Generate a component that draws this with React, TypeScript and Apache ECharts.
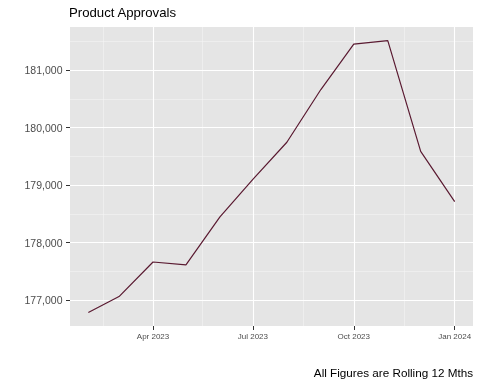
import React, { useEffect, useRef } from "react";
import * as echarts from "echarts";

const months = [
  "2023-02-01", "2023-03-01", "2023-04-01", "2023-05-01", "2023-06-01", "2023-07-01",
  "2023-08-01", "2023-09-01", "2023-10-01", "2023-11-01", "2023-12-01", "2024-01-01",
];
const approvals = [176790, 177065, 177665, 177615, 178450, 179100, 179745, 180660, 181450, 181510, 179585, 178715];
const xMajorTicks = ["2023-04-01", "2023-07-01", "2023-10-01", "2024-01-01"];
const xMinorTicks = ["2023-02-15", "2023-05-16", "2023-08-16", "2023-11-16"];
const yMajorTicks = [177000, 178000, 179000, 180000, 181000];
const yMinorTicks = [177500, 178500, 179500, 180500, 181500];
const monthNames = ["Jan", "Feb", "Mar", "Apr", "May", "Jun", "Jul", "Aug", "Sep", "Oct", "Nov", "Dec"];

const ts = (s: string) => {
  const [y, m, d] = s.split("-").map(Number);
  return Date.UTC(y, m - 1, d);
};

export default function App() {
  const ref = useRef<HTMLDivElement>(null);
  useEffect(() => {
    if (!ref.current) return;
    const chart = echarts.init(ref.current, null, { renderer: "svg" });
    const data = months.map((m, i) => [ts(m), approvals[i]]);
    const xs = months.map(ts);
    const span = xs[xs.length - 1] - xs[0];
    const xMin = xs[0] - span * 0.05;
    const xMax = xs[xs.length - 1] + span * 0.05;
    const yLo = Math.min(...approvals);
    const yHi = Math.max(...approvals);
    const yMin = yLo - (yHi - yLo) * 0.05;
    const yMax = yHi + (yHi - yLo) * 0.05;
    const major = { color: "#FFFFFF", width: 1.1, type: "solid" as const };
    const minor = { color: "#F5F5F5", width: 0.55, type: "solid" as const };
    const gridLines = [
      ...xMinorTicks.map((t) => ({ xAxis: ts(t), lineStyle: minor })),
      ...yMinorTicks.filter((v) => v > yMin && v < yMax).map((v) => ({ yAxis: v, lineStyle: minor })),
      ...xMajorTicks.map((t) => ({ xAxis: ts(t), lineStyle: major })),
      ...yMajorTicks.map((v) => ({ yAxis: v, lineStyle: major })),
    ];
    chart.setOption({
      animation: false,
      title: [
        {
          text: "Product Approvals",
          left: 69,
          top: 6,
          padding: 0,
          textStyle: { fontFamily: "Liberation Sans, Arial", fontSize: 13.2, fontWeight: "normal", color: "#000" },
        },
        {
          text: "All Figures are Rolling 12 Mths",
          right: 7,
          top: 366,
          padding: 0,
          textStyle: { fontFamily: "Liberation Sans, Arial", fontSize: 11.7, fontWeight: "normal", color: "#000" },
        },
      ],
      grid: {
        left: 70,
        right: 7,
        top: 27,
        bottom: 58,
        show: true,
        backgroundColor: "#E5E5E5",
        borderWidth: 0,
      },
      xAxis: {
        type: "value",
        min: xMin,
        max: xMax,
        axisLine: { show: false },
        splitLine: { show: false },
        axisTick: {
          show: true,
          length: 4,
          lineStyle: { color: "#333333", width: 1 },
          customValues: xMajorTicks.map(ts),
        },
        axisLabel: {
          show: true,
          customValues: xMajorTicks.map(ts),
          formatter: (v: number) => {
            const d = new Date(v);
            return `${monthNames[d.getUTCMonth()]} ${d.getUTCFullYear()}`;
          },
          fontFamily: "Liberation Sans, Arial",
          fontSize: 8,
          color: "#4D4D4D",
          margin: 6,
        },
      },
      yAxis: {
        type: "value",
        min: yMin,
        max: yMax,
        axisLine: { show: false },
        splitLine: { show: false },
        axisTick: {
          show: true,
          length: 4,
          lineStyle: { color: "#333333", width: 1 },
          customValues: yMajorTicks,
        },
        axisLabel: {
          show: true,
          customValues: yMajorTicks,
          formatter: (v: number) => v.toLocaleString("en-US"),
          fontFamily: "Liberation Sans, Arial",
          fontSize: 10.5,
          color: "#4D4D4D",
          margin: 7.5,
        },
      },
      series: [
        {
          type: "line",
          data,
          z: 1,
          showSymbol: false,
          silent: true,
          lineStyle: { opacity: 0 },
          markLine: {
            z: 1,
            silent: true,
            symbol: "none",
            label: { show: false },
            data: gridLines,
          },
        },
        {
          type: "line",
          data,
          z: 10,
          showSymbol: false,
          lineStyle: { color: "#5A1A31", width: 1.2 },
        },
      ],
    });
    return () => chart.dispose();
  }, []);
  return <div ref={ref} style={{ position: "fixed", left: 0, top: 0, width: 480, height: 384 }} />;
}
